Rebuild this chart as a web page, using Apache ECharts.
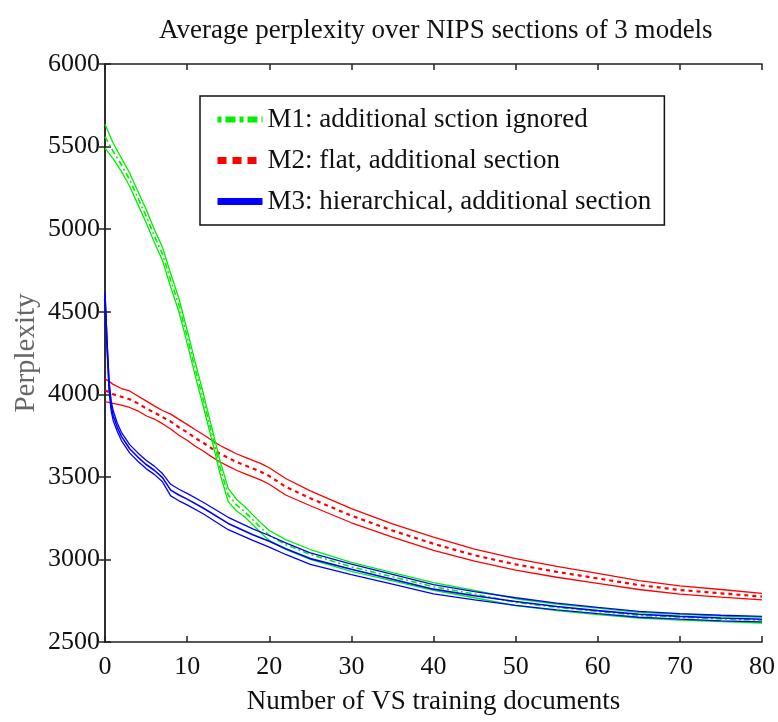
<!DOCTYPE html>
<html>
<head>
<meta charset="utf-8">
<script src="https://cdn.jsdelivr.net/npm/echarts@6/dist/echarts.min.js"></script>
<style>html,body{margin:0;padding:0;background:#fff;}#chart{width:778px;height:722px;}</style>
</head>
<body>
<div id="chart"></div>
<script>
// ---- Data ----
const titleText = 'Average perplexity over NIPS sections of 3 models';
const xName = 'Number of VS training documents';
const yName = 'Perplexity';
const names = ['M1: additional sction ignored', 'M2: flat, additional section', 'M3: hierarchical, additional section'];

const m1X     = [0,1,2,3,4,5,6,7,8,9,10,11,12,13,14,15,16,17,18,19,20,22,25,30,35,40,45,50,55,60,65,70,75,80];
const m1Mean  = [5560,5470,5390,5300,5190,5080,4960,4850,4690,4540,4350,4150,3960,3763,3560,3390,3330,3290,3240,3190,3145,3090,3030,2955,2895,2835,2790,2740,2710,2685,2662,2650,2640,2632];
const m1Upper = [5635,5520,5430,5340,5230,5120,5000,4890,4730,4580,4390,4190,4000,3800,3600,3430,3365,3320,3270,3220,3175,3120,3060,2982,2920,2860,2812,2762,2730,2705,2680,2668,2657,2650];
const m1Lower = [5490,5425,5350,5260,5150,5040,4920,4810,4650,4500,4310,4110,3920,3725,3520,3350,3295,3258,3210,3160,3115,3060,3000,2928,2870,2812,2768,2720,2690,2666,2645,2633,2624,2615];

const m2X     = [0,1,2,3,4,5,6,7,8,9,10,11,12,13,14,15,16,17,18,19,20,22,25,30,35,40,45,50,55,60,65,70,75,80];
const m2Mean  = [4025,4000,3985,3970,3945,3915,3890,3862,3835,3800,3770,3735,3705,3672,3640,3615,3590,3570,3550,3530,3505,3440,3370,3265,3175,3095,3025,2970,2925,2885,2845,2815,2795,2775];
const m2Upper = [4095,4060,4035,4020,3990,3960,3930,3902,3880,3848,3818,3785,3755,3722,3690,3665,3640,3620,3600,3580,3555,3490,3415,3308,3215,3135,3062,3005,2958,2915,2872,2840,2818,2795];
const m2Lower = [3955,3945,3935,3920,3900,3870,3850,3822,3790,3752,3722,3685,3655,3621,3590,3565,3540,3520,3500,3480,3455,3390,3325,3222,3135,3055,2990,2935,2892,2855,2818,2790,2772,2755];

const m3X     = [0,0.25,0.5,0.75,1,1.5,2,3,4,5,6,7,8,9,10,12,15,18,20,22,25,30,35,40,45,50,55,60,65,70,75,80];
const m3Mean  = [4600,4300,4050,3930,3870,3800,3745,3670,3620,3575,3540,3495,3420,3390,3365,3310,3218,3150,3110,3065,3005,2940,2880,2820,2780,2745,2715,2690,2668,2655,2645,2638];
const m3Upper = [4620,4330,4080,3960,3900,3825,3770,3695,3645,3600,3565,3520,3455,3425,3400,3345,3255,3185,3145,3100,3040,2972,2910,2848,2805,2768,2735,2710,2686,2672,2662,2655];
const m3Lower = [4580,4270,4020,3900,3840,3775,3720,3645,3595,3550,3515,3470,3385,3355,3330,3275,3180,3115,3075,3030,2970,2908,2850,2792,2755,2722,2695,2672,2650,2638,2628,2622];

const xTicks = {min: 0, max: 80, interval: 10};
const yTicks = {min: 2500, max: 6000, interval: 500};

// ---- Chart ----
const FONT = 'Liberation Serif';
const colors = {m1: '#00ee00', m2: '#ff0000', m3: '#0000ff'};
const pairs = (xs, ys) => xs.map((x, i) => [x, ys[i]]);

function bound(name, xs, ys, color) {
  return {name: name, type: 'line', data: pairs(xs, ys), symbol: 'none', showSymbol: false,
          silent: true, lineStyle: {color: color, width: 1.3}, itemStyle: {color: color}};
}
function mean(name, xs, ys, color, dash, w) {
  return {name: name, type: 'line', data: pairs(xs, ys), symbol: 'none', showSymbol: false,
          silent: true, lineStyle: {color: color, width: w, type: dash}, itemStyle: {color: color}};
}

const chart = echarts.init(document.getElementById('chart'), null, {renderer: 'canvas'});
const axisLine = {show: true, lineStyle: {color: '#222', width: 1.5}};
const tick = {show: true, inside: true, length: 6, lineStyle: {color: '#222', width: 1.5}};
const plain = v => String(v);
chart.setOption({
  animation: false,
  backgroundColor: '#fff',
  title: {text: titleText, left: 154, top: 12,
          textStyle: {fontFamily: FONT, fontSize: 27, fontWeight: 'normal', color: '#111'}},
  grid: {left: 105, right: 15, top: 64, bottom: 80, containLabel: false},
  legend: {
    orient: 'vertical', left: 200, top: 96,
    padding: [10, 13, 10, 14], itemGap: 14, itemWidth: 45, itemHeight: 14,
    borderColor: '#111', borderWidth: 1.5, backgroundColor: '#fff',
    textStyle: {fontFamily: FONT, fontSize: 27, color: '#111'},
    itemStyle: {color: 'rgba(0,0,0,0)', borderWidth: 0, opacity: 0},
    data: [
      {name: names[0], lineStyle: {color: colors.m1, width: 6, type: [4, 4, 10, 4]}, itemStyle: {opacity: 0}},
      {name: names[1], lineStyle: {color: colors.m2, width: 7, type: [9, 6]}, itemStyle: {opacity: 0}},
      {name: names[2], lineStyle: {color: colors.m3, width: 7, type: 'solid'}, itemStyle: {opacity: 0}}
    ]
  },
  xAxis: [
    {type: 'value', position: 'bottom', min: xTicks.min, max: xTicks.max, interval: xTicks.interval,
     name: xName, nameLocation: 'middle', nameGap: 46,
     nameTextStyle: {fontFamily: FONT, fontSize: 27, color: '#111'},
     axisLine: axisLine, axisTick: tick, splitLine: {show: false},
     axisLabel: {fontFamily: FONT, fontSize: 26, color: '#111', margin: 12, formatter: plain}},
    {type: 'value', position: 'top', min: xTicks.min, max: xTicks.max, interval: xTicks.interval,
     axisLine: axisLine, axisTick: tick, splitLine: {show: false}, axisLabel: {show: false}}
  ],
  yAxis: [
    {type: 'value', position: 'left', min: yTicks.min, max: yTicks.max, interval: yTicks.interval,
     name: yName, nameLocation: 'middle', nameGap: 64, nameRotate: 90, nameMoveOverlap: false,
     nameTextStyle: {fontFamily: FONT, fontSize: 29, color: '#666'},
     axisLine: axisLine, axisTick: tick, splitLine: {show: false},
     axisLabel: {fontFamily: FONT, fontSize: 26, color: '#111', margin: 5, formatter: plain}},
    {type: 'value', position: 'right', min: yTicks.min, max: yTicks.max, interval: yTicks.interval,
     axisLine: axisLine, axisTick: tick, splitLine: {show: false}, axisLabel: {show: false}}
  ],
  series: [
    bound('M2 upper', m2X, m2Upper, colors.m2),
    bound('M2 lower', m2X, m2Lower, colors.m2),
    mean(names[1], m2X, m2Mean, colors.m2, [4, 4], 2.2),
    bound('M1 upper', m1X, m1Upper, colors.m1),
    bound('M1 lower', m1X, m1Lower, colors.m1),
    mean(names[0], m1X, m1Mean, colors.m1, [6, 3, 2, 3], 1.6),
    bound('M3 upper', m3X, m3Upper, colors.m3),
    bound('M3 lower', m3X, m3Lower, colors.m3),
    mean(names[2], m3X, m3Mean, colors.m3, 'solid', 1.6)
  ]
});
</script>
</body>
</html>
